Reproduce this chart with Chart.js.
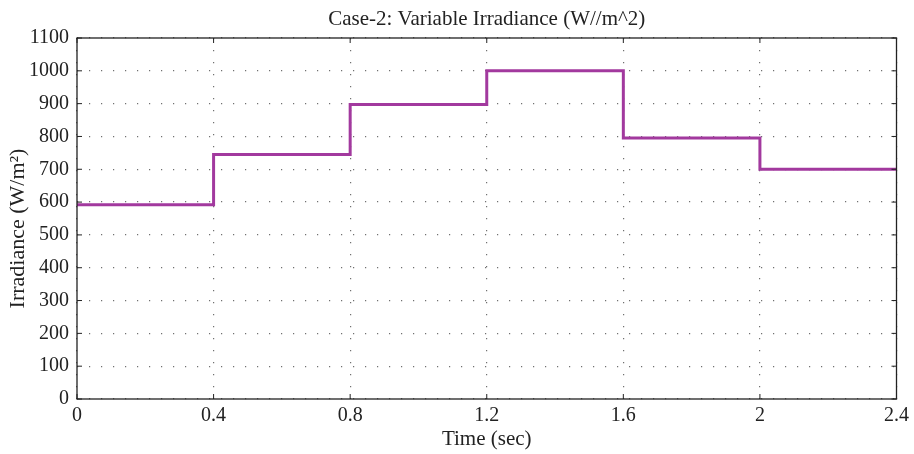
<!DOCTYPE html>
<html>
<head>
<meta charset="utf-8">
<script src="https://cdn.jsdelivr.net/npm/chart.js@4/dist/chart.umd.min.js"></script>
<style>
  html, body { margin: 0; padding: 0; background: #fff; }
  #wrap { width: 914px; height: 454px; }
</style>
</head>
<body>
<div id="wrap"><canvas id="irrChart"></canvas></div>
<script>
// step change instants (sec) and irradiance level held from each instant
const stepTimes = [0, 0.4, 0.8, 1.2, 1.6, 2, 2.4];
const irradiance = [592, 745, 897, 1000, 795, 700];
const xTicks = [0, 0.4, 0.8, 1.2, 1.6, 2, 2.4];
const yTicks = [0, 100, 200, 300, 400, 500, 600, 700, 800, 900, 1000, 1100];

const titleText = 'Case-2: Variable Irradiance (W//m^2)';
const yTitleText = 'Irradiance (W/m²)';

const points = stepTimes.map((t, i) => ({
    x: t,
    y: irradiance[Math.min(i, irradiance.length - 1)]
}));

const serif = "'Liberation Serif', 'DejaVu Serif', serif";
const ink = '#222';
const gridColor = '#707070';

// box around the plot with short inward tick marks, plus titles centred on the plot
const framePlugin = {
    id: 'frame',
    afterDraw(chart) {
        const { ctx, chartArea: a, scales } = chart;
        const len = 5;
        ctx.save();
        ctx.strokeStyle = ink;
        ctx.lineWidth = 1.3;
        ctx.strokeRect(a.left, a.top, a.right - a.left, a.bottom - a.top);
        ctx.beginPath();
        xTicks.forEach(v => {
            const px = scales.x.getPixelForValue(v);
            ctx.moveTo(px, a.bottom); ctx.lineTo(px, a.bottom - len);
            ctx.moveTo(px, a.top); ctx.lineTo(px, a.top + len);
        });
        yTicks.forEach(v => {
            const py = scales.y.getPixelForValue(v);
            ctx.moveTo(a.left, py); ctx.lineTo(a.left + len, py);
            ctx.moveTo(a.right, py); ctx.lineTo(a.right - len, py);
        });
        ctx.lineWidth = 1;
        ctx.stroke();

        ctx.fillStyle = ink;
        ctx.font = '21px ' + serif;
        ctx.textAlign = 'center';
        ctx.textBaseline = 'middle';
        ctx.fillText(titleText, (a.left + a.right) / 2, 19);

        ctx.font = '22px ' + serif;
        ctx.translate(18, (a.top + a.bottom) / 2 + 10);
        ctx.rotate(-Math.PI / 2);
        ctx.fillText(yTitleText, 0, 0);
        ctx.restore();
    }
};

new Chart(document.getElementById('irrChart'), {
    type: 'line',
    data: {
        datasets: [{
            label: 'Irradiance',
            data: points,
            stepped: 'before',
            borderColor: '#a2399e',
            borderWidth: 3,
            pointRadius: 0,
            fill: false
        }]
    },
    options: {
        responsive: true,
        maintainAspectRatio: false,
        animation: false,
        layout: { padding: { top: 38, right: 14, bottom: 0, left: 0 } },
        plugins: {
            legend: { display: false },
            tooltip: { enabled: false },
            title: { display: false }
        },
        scales: {
            x: {
                type: 'linear',
                min: 0,
                max: 2.4,
                afterBuildTicks(scale) {
                    scale.ticks = xTicks.map(v => ({ value: v }));
                },
                afterFit(scale) { scale.height = 55; },
                ticks: {
                    color: ink,
                    padding: 5,
                    maxRotation: 0,
                    font: { family: serif, size: 20 },
                    callback: v => String(v)
                },
                grid: {
                    color: gridColor,
                    lineWidth: 1.2,
                    drawTicks: false
                },
                border: { display: false, dash: [1.2, 10.8] },
                title: {
                    display: true,
                    text: 'Time (sec)',
                    color: ink,
                    font: { family: serif, size: 21 },
                    padding: { top: 0, bottom: 2 }
                }
            },
            y: {
                min: 0,
                max: 1100,
                afterBuildTicks(scale) {
                    scale.ticks = yTicks.map(v => ({ value: v }));
                },
                afterFit(scale) { scale.width = 77; },
                ticks: {
                    color: ink,
                    padding: 8,
                    font: { family: serif, size: 20 },
                    callback: v => String(v)
                },
                grid: {
                    color: gridColor,
                    lineWidth: 1.2,
                    drawTicks: false
                },
                border: { display: false, dash: [1.2, 10.8] }
            }
        }
    },
    plugins: [framePlugin]
});
</script>
</body>
</html>
